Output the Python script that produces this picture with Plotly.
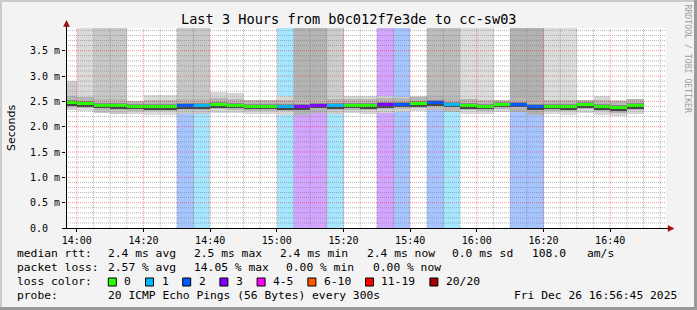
import plotly.graph_objects as go
import pandas as pd

# ---------------- data ----------------
slot_start = pd.date_range("2025-12-26 13:55", periods=35, freq="5min")
median_ms = [2.47, 2.45, 2.42, 2.41, 2.40, 2.39, 2.39, 2.41, 2.41, 2.43,
             2.42, 2.40, 2.40, 2.39, 2.39, 2.42, 2.41, 2.42, 2.41, 2.43,
             2.44, 2.45, 2.47, 2.44, 2.41, 2.40, 2.44, 2.44, 2.39, 2.40,
             2.39, 2.43, 2.39, 2.37, 2.41]
loss_count = [0, 0, 0, 0, 0, 0, 0, 2, 1, 0,
              0, 0, 0, 1, 3, 3, 1, 0, 0, 3,
              2, 0, 2, 1, 0, 0, 0, 2, 2, 0,
              0, 0, 0, 0, 0]
# upper edge of the smoke (5.0 = off the top of the scale)
smoke_max_ms = [2.90, 5.0, 5.0, 5.0, 2.51, 2.63, 2.63, 5.0, 5.0, 2.69,
                2.67, 2.53, 2.53, 2.60, 5.0, 5.0, 5.0, 2.61, 2.60, 2.61,
                2.59, 2.60, 5.0, 5.0, 5.0, 5.0, 2.53, 5.0, 5.0, 5.0,
                5.0, 2.53, 2.60, 2.53, 2.54]
smoke_min_ms = [m - 0.15 for m in median_ms]
smoke_gray = [205, 218, 200, 200, 215, 220, 220, 200, 200, 215,
              215, 220, 220, 215, 180, 180, 205, 215, 215, 210,
              210, 215, 188, 188, 220, 220, 215, 178, 178, 220,
              220, 215, 215, 215, 215]

loss_labels = ["0", "1", "2", "3", "4-5", "6-10", "11-19", "20/20"]
loss_colors = ["#26ff00", "#00b8ff", "#0059ff", "#7e00ff", "#ff00ff", "#ff5500", "#ff0000", "#a00000"]

y_ticks = [0.0, 0.5, 1.0, 1.5, 2.0, 2.5, 3.0, 3.5]
y_ticktext = ["0.0\u00a0\u00a0", "0.5 m", "1.0 m", "1.5 m", "2.0 m", "2.5 m", "3.0 m", "3.5 m"]

title_text = "Last 3 Hours from b0c012f7e3de to cc-sw03"
stats_rtt = ["median rtt:", "2.4 ms avg", "2.5 ms max", "2.4 ms min", "2.4 ms now", "0.0 ms sd", "108.0", "am/s"]
stats_loss = ["packet loss:", "2.57 % avg", "14.05 % max", "0.00 % min", "0.00 % now"]
probe_text = ["probe:", "20 ICMP Echo Pings (56 Bytes) every 300s", "Fri Dec 26 16:56:45 2025"]

# ---------------- layout constants ----------------
W, H = 697, 310
L, T, PW, PH = 66, 28, 600, 200
MONO = "DejaVu Sans Mono"
x0 = pd.Timestamp("2025-12-26 13:56:45")
x1 = pd.Timestamp("2025-12-26 16:56:45")
YMAX = 3.948


def px(X):
    return (X - L) / PW


def py(Y):
    return (T + PH - Y) / PH


def loss_color(n):
    if n == 0:
        return 0
    if n <= 3:
        return n
    if n <= 5:
        return 4
    if n <= 10:
        return 5
    if n <= 19:
        return 6
    return 7


def rgba(hexc, a):
    hexc = hexc.lstrip("#")
    r, g, b = int(hexc[0:2], 16), int(hexc[2:4], 16), int(hexc[4:6], 16)
    return f"rgba({r},{g},{b},{a})"


n = len(slot_start)
centers = slot_start + pd.Timedelta(minutes=2.5)
BW = 5 * 60 * 1000

fig = go.Figure()


def add_layer(base, top, colors):
    fig.add_trace(go.Bar(
        x=centers, base=base, y=[max(t - b, 0) for t, b in zip(top, base)],
        width=[BW] * n, marker=dict(color=colors, line=dict(width=0)),
        hoverinfo="skip", showlegend=False))


# loss background bands (full height)
band_colors = [rgba(loss_colors[loss_color(c)], 0.35) if c > 0 else "rgba(0,0,0,0)" for c in loss_count]
add_layer([0] * n, [5.0] * n, band_colors)
# smoke outer
add_layer(smoke_min_ms, smoke_max_ms, [f"rgb({g},{g},{g})" for g in smoke_gray])
# smoke inner layers
add_layer([m - 0.09 for m in median_ms], [min(m + 0.13, s) for m, s in zip(median_ms, smoke_max_ms)],
          ["#b6b6b6"] * n)
add_layer([m - 0.06 for m in median_ms], [m + 0.05 for m in median_ms], ["#8a8a8a"] * n)
add_layer([m - 0.05 for m in median_ms], [m - 0.022 for m in median_ms], ["#474747"] * n)
# median line coloured by loss
add_layer([m - 0.022 for m in median_ms], [m + 0.03 for m in median_ms],
          [loss_colors[loss_color(c)] for c in loss_count])

shapes = []
GRID_MINOR = "rgba(120,120,120,0.55)"
GRID_MAJOR = "rgba(255,0,0,0.42)"
# grid drawn above data
t = pd.Timestamp("2025-12-26 14:00")
while t < x1:
    major = (t.minute % 20 == 0)
    shapes.append(dict(type="line", xref="x", yref="paper", x0=t, x1=t, y0=0, y1=1, layer="above",
                       line=dict(color=GRID_MAJOR if major else GRID_MINOR, width=1, dash="1px,1px")))
    t += pd.Timedelta(minutes=5)
for k in range(1, 40):
    v = k / 10
    if v >= YMAX:
        break
    major = (k % 5 == 0)
    shapes.append(dict(type="line", xref="paper", yref="y", x0=0, x1=1, y0=v, y1=v, layer="above",
                       line=dict(color=GRID_MAJOR if major else GRID_MINOR, width=1, dash="1px,1px")))

# axes extensions + arrows
shapes.append(dict(type="line", xref="paper", yref="paper", x0=px(66.5), x1=px(66.5), y0=py(228), y1=py(24),
                   line=dict(color="black", width=1)))
shapes.append(dict(type="line", xref="paper", yref="paper", x0=px(62), x1=px(669), y0=py(228.5), y1=py(228.5),
                   line=dict(color="black", width=1)))
arrow_col = "#a01010"
shapes.append(dict(type="path", xref="paper", yref="paper",
                   path=f"M {px(63.5)} {py(26.5)} L {px(69.5)} {py(26.5)} L {px(66.5)} {py(20.5)} Z",
                   fillcolor=arrow_col, line=dict(color=arrow_col, width=0.5)))
shapes.append(dict(type="path", xref="paper", yref="paper",
                   path=f"M {px(668)} {py(225.5)} L {px(668)} {py(231.5)} L {px(674)} {py(228.5)} Z",
                   fillcolor=arrow_col, line=dict(color=arrow_col, width=0.5)))

# image border (3D style)
shapes.append(dict(type="rect", xref="paper", yref="paper", x0=px(0), x1=px(W), y0=py(0), y1=py(2),
                   fillcolor="#cbcbcb", line=dict(width=0)))
shapes.append(dict(type="rect", xref="paper", yref="paper", x0=px(0), x1=px(2), y0=py(0), y1=py(H),
                   fillcolor="#cbcbcb", line=dict(width=0)))
shapes.append(dict(type="rect", xref="paper", yref="paper", x0=px(0), x1=px(W), y0=py(H - 3), y1=py(H),
                   fillcolor="#999999", line=dict(width=0)))
shapes.append(dict(type="rect", xref="paper", yref="paper", x0=px(W - 3), x1=px(W), y0=py(0), y1=py(H),
                   fillcolor="#999999", line=dict(width=0)))

annotations = []


def text(X, Y, s, size=11.3, font=MONO, color="black", xanchor="left", angle=0):
    annotations.append(dict(x=px(X), y=py(Y), xref="paper", yref="paper", text=s, showarrow=False,
                            xanchor=xanchor, yanchor="middle", textangle=angle,
                            font=dict(family=font, size=size, color=color)))


text(348.5, 19, title_text, size=13.6, xanchor="center")
text(11, 128, "Seconds", size=11, font="DejaVu Sans", xanchor="center", angle=-90)
text(687.5, 59, "RRDTOOL / TOBI OETIKER", size=8.2, color="#a0a0a0", xanchor="center", angle=90)

rtt_x = [16, 107.3, 192.7, 279.3, 366, 451, 530.7, 586]
for X, s in zip(rtt_x, stats_rtt):
    text(X - 1, 254, s)
loss_x = [16, 107.3, 192.7, 285, 372.3]
for X, s in zip(loss_x, stats_loss):
    text(X - 1, 267.5, s)
text(15, 281.5, "loss color:")
sx = 108.3
for lab, col in zip(loss_labels, loss_colors):
    shapes.append(dict(type="rect", xref="paper", yref="paper", x0=px(sx), x1=px(sx + 8),
                       y0=py(286), y1=py(278), fillcolor=col, line=dict(color="black", width=1)))
    text(sx + 14, 281.5, lab)
    sx = sx + 15 + len(lab) * 6.8 + 15.4
text(15, 295.5, probe_text[0])
text(106.3, 295.5, probe_text[1])
text(512.3, 295.5, probe_text[2])

fig.update_layout(
    width=W, height=H, margin=dict(l=L, r=W - L - PW, t=T, b=H - T - PH),
    paper_bgcolor="#f3f3f3", plot_bgcolor="white", barmode="overlay", bargap=0,
    showlegend=False, shapes=shapes, annotations=annotations,
    xaxis=dict(type="date", range=[x0, x1], showgrid=False, zeroline=False, showline=False,
               tickformat="%H:%M", tick0="2025-12-26 14:00", dtick=20 * 60 * 1000,
               ticks="outside", ticklen=3, tickcolor="black",
               tickfont=dict(family=MONO, size=10, color="black"), fixedrange=True),
    yaxis=dict(range=[0, YMAX], showgrid=False, zeroline=False, showline=False,
               tickvals=y_ticks, ticktext=y_ticktext, ticks="outside", ticklen=3, tickcolor="black",
               tickfont=dict(family=MONO, size=10, color="black"), fixedrange=True),
)

fig.write_html("out.html")
